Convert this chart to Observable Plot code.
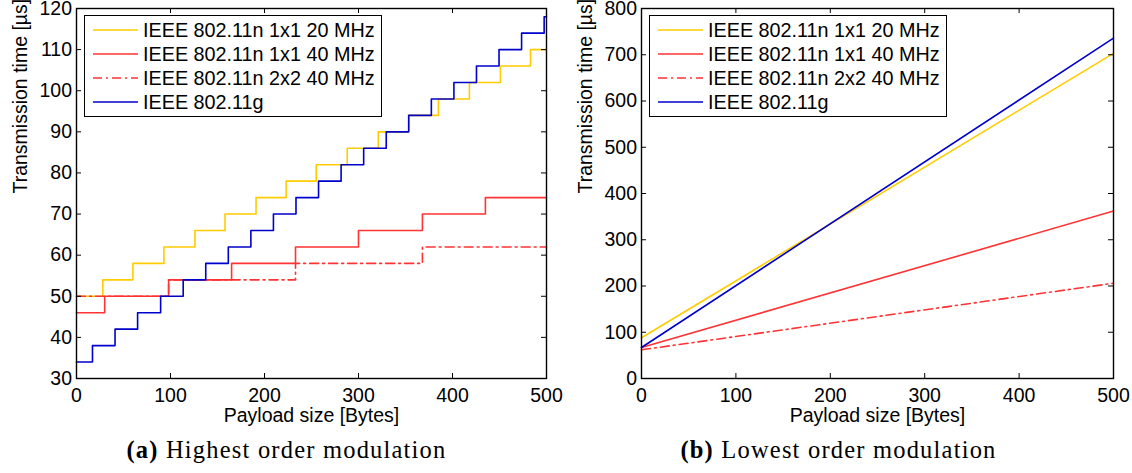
<!DOCTYPE html>
<html><head><meta charset="utf-8">
<script src="https://cdn.jsdelivr.net/npm/d3@7"></script>
<script src="https://cdn.jsdelivr.net/npm/@observablehq/plot@0.6"></script>
<style>
body{margin:0;background:#fff;}
#wrap{position:relative;width:1132px;height:473px;overflow:hidden;background:#fff;font-family:"Liberation Sans",Arial,sans-serif;}
.panel{position:absolute;top:0;}
.legend{position:absolute;top:15px;width:298px;height:102px;box-sizing:border-box;border:1.3px solid #000;background:#fff;}
.lrow{position:absolute;height:24px;line-height:24px;font-size:19.8px;white-space:nowrap;color:#000;}
.sw{position:absolute;}
.caption{position:absolute;top:435px;line-height:30px;font-family:"Liberation Serif","Times New Roman",serif;font-size:24.5px;letter-spacing:1.2px;white-space:nowrap;transform:translateX(-50%);color:#000;}
</style></head>
<body><div id="wrap"></div>
<script>
// ---- data ----
const xTicks = [0, 100, 200, 300, 400, 500];
const yTicksA = [30, 40, 50, 60, 70, 80, 90, 100, 110, 120];
const yTicksB = [0, 100, 200, 300, 400, 500, 600, 700, 800];
const seriesNames = ["IEEE 802.11n 1x1 20 MHz", "IEEE 802.11n 1x1 40 MHz", "IEEE 802.11n 2x2 40 MHz", "IEEE 802.11g"];
const seriesColors = ["#FFCC00", "#FF3333", "#FF3333", "#0000CC"];
const seriesDash = [null, null, "9,4,2,4", null];

// (a) highest order modulation: step positions (bytes) and levels (us)
const n20Steps = [28, 60, 93, 126, 158, 191, 223, 255, 288, 321, 353, 385, 418, 451, 483];
const n20Levels = [50, 54, 58, 62, 66, 70, 74, 78, 82, 86, 90, 94, 98, 102, 106, 110];
const n40Steps = [30, 98, 165, 233, 300, 368, 435];
const n40Levels = [46, 50, 54, 58, 62, 66, 70, 74];
const n2x2Steps = [98, 233, 368];
const n2x2Levels = [50, 54, 58, 62];
const gSteps = [17, 41, 65, 89.5, 113.5, 137.5, 161.5, 185.5, 209.5, 233.5, 257.5, 281.5, 305.5, 329.5, 353.5, 377.5, 401.5, 425.5, 449.5, 473.5, 497.5];
const gLevels = [34, 38, 42, 46, 50, 54, 58, 62, 66, 70, 74, 78, 82, 86, 90, 94, 98, 102, 106, 110, 114, 118];

// (b) lowest order modulation: payload vs time
const lowX = [0, 500];
const n20Low = [88, 703];
const n40Low = [67, 362];
const n2x2Low = [62, 206];
const gLow = [67, 736];

// ---- build ----
const xMax = xTicks[xTicks.length - 1];
function stepSeries(steps, levels) {
  const pts = [{x: 0, y: levels[0]}];
  steps.forEach((s, i) => pts.push({x: s, y: levels[i + 1]}));
  pts.push({x: xMax, y: levels[levels.length - 1]});
  return pts;
}
function lineSeries(xs, ys) { return xs.map((x, i) => ({x, y: ys[i]})); }

const FS = 19.5;
function panel({width, height, ml, mr, mt, mb, yDomain, yTicks, series, curve}) {
  const fw = width - ml - mr, fh = height - mt - mb;
  const marks = [];
  series.forEach((pts, i) => {
    marks.push(Plot.line(pts, {x: "x", y: "y", curve, stroke: seriesColors[i], strokeWidth: 1.6,
      strokeDasharray: seriesDash[i] || undefined}));
  });
  marks.push(
    Plot.tickX(xTicks, {x: d => d, insetTop: fh - 5, stroke: "#000", strokeWidth: 1}),
    Plot.tickX(xTicks, {x: d => d, insetBottom: fh - 5, stroke: "#000", strokeWidth: 1}),
    Plot.tickY(yTicks, {y: d => d, insetRight: fw - 5, stroke: "#000", strokeWidth: 1}),
    Plot.tickY(yTicks, {y: d => d, insetLeft: fw - 5, stroke: "#000", strokeWidth: 1}),
    Plot.frame({stroke: "#000", strokeWidth: 1.4}),
    Plot.axisX(xTicks, {anchor: "bottom", tickSize: 0, tickPadding: 10, fontSize: FS, label: null}),
    Plot.axisY(yTicks, {anchor: "left", tickSize: 0, tickPadding: 4.5, fontSize: FS, label: null}),
    Plot.text(["Payload size [Bytes]"], {text: d => d, frameAnchor: "bottom", lineAnchor: "middle", dy: 37, fontSize: FS, fill: "#000"}),
    Plot.text(["Transmission time [µs]"], {text: d => d, frameAnchor: "left", dx: -56, rotate: -90, fontSize: FS, fill: "#000"})
  );
  return Plot.plot({
    width, height, marginLeft: ml, marginRight: mr, marginTop: mt, marginBottom: mb,
    style: {fontFamily: '"Liberation Sans", Arial, sans-serif', fontSize: FS + "px", color: "#000", background: "transparent", overflow: "visible"},
    x: {domain: [0, xMax]},
    y: {domain: yDomain},
    marks
  });
}

const wrap = document.getElementById("wrap");

const seriesA = [stepSeries(n20Steps, n20Levels), stepSeries(n40Steps, n40Levels), stepSeries(n2x2Steps, n2x2Levels), stepSeries(gSteps, gLevels)];
const seriesB = [lineSeries(lowX, n20Low), lineSeries(lowX, n40Low), lineSeries(lowX, n2x2Low), lineSeries(lowX, gLow)];

const pa = panel({width: 560, height: 420, ml: 76, mr: 14, mt: 8, mb: 42, yDomain: [30, 120], yTicks: yTicksA, series: seriesA, curve: "step-after"});
const da = document.createElement("div"); da.className = "panel"; da.style.left = "0px"; da.appendChild(pa); wrap.appendChild(da);

const pb = panel({width: 572, height: 420, ml: 81, mr: 19, mt: 8, mb: 42, yDomain: [0, 800], yTicks: yTicksB, series: seriesB, curve: "linear"});
const db = document.createElement("div"); db.className = "panel"; db.style.left = "560px"; db.appendChild(pb); wrap.appendChild(db);

// legends
function legend(left) {
  const box = document.createElement("div"); box.className = "legend"; box.style.left = left + "px"; wrap.appendChild(box);
  seriesNames.forEach((name, i) => {
    const cy = 30 + 24 * i;
    const sw = document.createElementNS("http://www.w3.org/2000/svg", "svg");
    sw.setAttribute("class", "sw"); sw.setAttribute("width", 45); sw.setAttribute("height", 6);
    sw.style.left = (left + 9) + "px"; sw.style.top = (cy - 3) + "px";
    const ln = document.createElementNS("http://www.w3.org/2000/svg", "line");
    ln.setAttribute("x1", 0); ln.setAttribute("x2", 45); ln.setAttribute("y1", 3); ln.setAttribute("y2", 3);
    ln.setAttribute("stroke", seriesColors[i]); ln.setAttribute("stroke-width", 1.6);
    if (seriesDash[i]) ln.setAttribute("stroke-dasharray", seriesDash[i]);
    sw.appendChild(ln); wrap.appendChild(sw);
    const t = document.createElement("div"); t.className = "lrow"; t.textContent = name;
    t.style.left = (left + 59) + "px"; t.style.top = (cy - 12) + "px"; wrap.appendChild(t);
  });
}
legend(84);
legend(649);

// captions
function caption(cx, tag, text) {
  const c = document.createElement("div"); c.className = "caption"; c.style.left = cx + "px";
  const b = document.createElement("b"); b.textContent = tag; c.appendChild(b);
  c.appendChild(document.createTextNode(" " + text)); wrap.appendChild(c);
}
caption(286.5, "(a)", "Highest order modulation");
caption(838.5, "(b)", "Lowest order modulation");
</script></body></html>
